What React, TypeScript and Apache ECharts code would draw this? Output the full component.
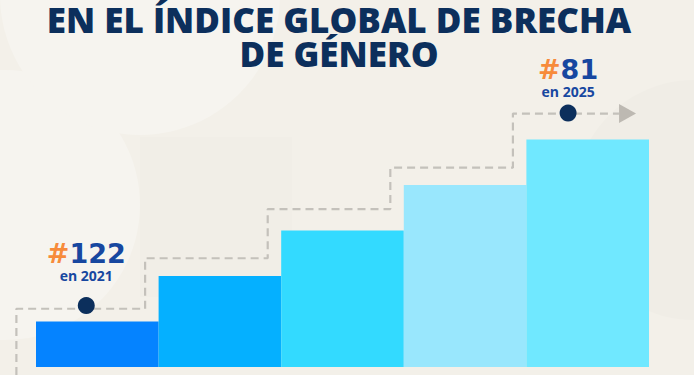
import React, { useEffect, useRef } from "react";
import * as echarts from "echarts";

// ---- data ----
const titleLines = ["EN EL ÍNDICE GLOBAL DE BRECHA", "DE GÉNERO"];
const years = ["2021", "2022", "2023", "2024", "2025"];
const barLevels = [1, 2, 3, 4, 5];
const barColors = ["#0583ff", "#05b0ff", "#33daff", "#99e7fd", "#70e8ff"];
// dashed stair path levels (same units as bars), one per year
const stairLevels = [1.28, 2.39, 3.47, 4.38, 5.57];
// highlighted rankings
const rankYears = ["2021", "2025"];
const rankValues = [122, 81];
const rankDotLevels = [1.35, 5.58];

const FONT = '"Open Sans", Lato, sans-serif';
const NUMFONT = '"DejaVu Sans", "Open Sans", sans-serif';

export default function App() {
  const ref = useRef<HTMLDivElement>(null);
  useEffect(() => {
    if (!ref.current) return;
    const chart = echarts.init(ref.current, undefined, { renderer: "svg" });

    const W = 694;
    const gridL = 36;
    const gridR = 45;
    const gridTop = 94;
    const gridBottom = 8;
    const catW = (W - gridL - gridR) / years.length;
    const yMax = 6;
    const unitPx = (375 - gridTop - gridBottom) / yMax;
    // overlay axis ranges so the overlay grid (full width, to the bottom) maps identically
    const ovMinX = -0.5 - gridL / catW;
    const ovMaxX = years.length - 0.5 + gridR / catW;
    const ovMinY = -gridBottom / unitPx;

    // stair path built from levels: corners slightly left of each category boundary
    const cornerShift = 0.11;
    const startX = -0.66;
    const endX = 4.255;
    const stairData: number[][] = [[startX, ovMinY]];
    stairLevels.forEach((lv, i) => {
      const xStart = i === 0 ? startX : i - 0.5 - cornerShift;
      const xEnd = i === stairLevels.length - 1 ? endX : i + 0.5 - cornerShift;
      stairData.push([xStart, lv]);
      stairData.push([xEnd, lv]);
    });
    const last = stairLevels[stairLevels.length - 1];

    const dotData = rankYears.map((y, k) => {
      const idx = years.indexOf(y);
      const xOff = k === 0 ? -0.09 : -0.16;
      return {
        value: [idx + xOff, rankDotLevels[k]],
        label: { distance: k === 0 ? 14 : 5 },
        rank: rankValues[k],
        year: y,
      };
    });

    chart.setOption({
      animation: false,
      backgroundColor: "#f3f0e9",
      graphic: [
        { type: "circle", z: -10, shape: { cx: 5, cy: 205, r: 135 }, style: { fill: "#f6f4ef" }, silent: true },
        { type: "rect", z: -10, shape: { x: 140, y: 137, width: 152, height: 160 }, style: { fill: "#f1eee7" }, silent: true },
        { type: "circle", z: -10, shape: { cx: 140, cy: -5, r: 140 }, style: { fill: "#f6f4ef" }, silent: true },
        { type: "circle", z: -10, shape: { cx: 694, cy: 200, r: 120 }, style: { fill: "#f0ede6" }, silent: true },
        ...titleLines.map((t, i) => ({
          type: "text",
          x: 339,
          y: 19 + i * 34,
          style: {
            text: t,
            font: `800 35px ${FONT}`,
            fill: "#0c2f5c",
            align: "center",
            verticalAlign: "middle",
          },
        })),
      ],
      grid: [
        { left: gridL, right: gridR, top: gridTop, bottom: gridBottom },
        { left: 0, right: 0, top: gridTop, bottom: 0 },
      ],
      xAxis: [
        { type: "category", data: years, show: false, gridIndex: 0 },
        { type: "value", min: ovMinX, max: ovMaxX, show: false, gridIndex: 1 },
      ],
      yAxis: [
        { type: "value", min: 0, max: yMax, show: false, splitLine: { show: false }, gridIndex: 0 },
        { type: "value", min: ovMinY, max: yMax, show: false, splitLine: { show: false }, gridIndex: 1 },
      ],
      series: [
        {
          type: "bar",
          xAxisIndex: 0,
          yAxisIndex: 0,
          barCategoryGap: "0%",
          data: barLevels.map((v, i) => ({ value: v, itemStyle: { color: barColors[i] } })),
          z: 1,
        },
        {
          type: "line",
          xAxisIndex: 1,
          yAxisIndex: 1,
          data: stairData,
          symbol: "none",
          lineStyle: { color: "#c4c1bb", width: 2.2, type: [8, 5] },
          z: 2,
        },
        {
          type: "scatter",
          xAxisIndex: 1,
          yAxisIndex: 1,
          data: [[4.325, last]],
          symbol: "triangle",
          symbolSize: [19, 17],
          symbolRotate: -90,
          itemStyle: { color: "#bdb9b2", opacity: 1 },
          z: 3,
        },
        {
          type: "scatter",
          xAxisIndex: 1,
          yAxisIndex: 1,
          data: dotData,
          symbol: "circle",
          symbolSize: 17,
          itemStyle: { color: "#0c2f5c", opacity: 1 },
          z: 4,
          label: {
            show: true,
            position: "top",
            formatter: (p: any) => `{h|#}{n|${p.data.rank}}\n{y|en ${p.data.year}}`,
            rich: {
              h: { color: "#f78b3b", fontSize: 27, fontWeight: "bold", fontFamily: NUMFONT, lineHeight: 28 },
              n: { color: "#1747a0", fontSize: 27, fontWeight: "bold", fontFamily: NUMFONT, lineHeight: 28 },
              y: { color: "#1747a0", fontSize: 14, fontWeight: 700, fontFamily: FONT, lineHeight: 16, align: "center" },
            },
            align: "center",
          },
        },
      ],
    });
    return () => chart.dispose();
  }, []);
  return <div ref={ref} style={{ width: 694, height: 375, position: "fixed", left: 0, top: 0 }} />;
}
